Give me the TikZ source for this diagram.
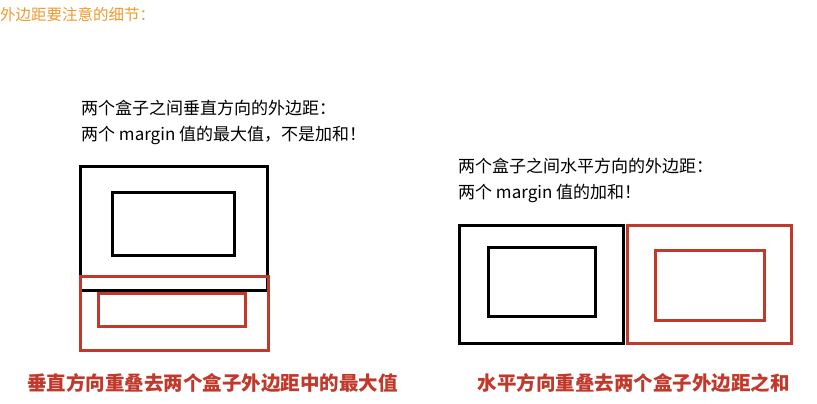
\documentclass[tikz,border=0pt]{standalone}
\usepackage{fontspec}
\setmainfont{Noto Sans CJK SC}
\usetikzlibrary{positioning}
\definecolor{note}{HTML}{EE9A2D}
\definecolor{mred}{HTML}{C0392B}
\tikzset{
  boxblk/.style  = {rectangle, draw=black, line width=3pt, inner sep=0pt, outer sep=0pt},
  boxred/.style  = {rectangle, draw=mred, line width=3pt, inner sep=0pt, outer sep=0pt},
  bodytxt/.style = {anchor=west, inner sep=0pt, font=\fontsize{17}{20}\selectfont},
  captxt/.style  = {inner sep=0pt, text=mred, font=\fontsize{19.5}{22}\selectfont\bfseries},
  notetxt/.style = {anchor=west, inner sep=0pt, text=note, font=\fontsize{15.5}{18}\selectfont},
}

\begin{document}
\begin{tikzpicture}[x=1pt, y=-1pt]
  \useasboundingbox (0,0) rectangle (817,404);

  % title
  \node[notetxt] (title) at (0,15) {外边距要注意的细节：};

  % vertical case
  \node[bodytxt] (vtxt1) at (81,108) {两个盒子之间垂直方向的外边距：};
  \node[bodytxt] (vtxt2) at (81,135) {两个 margin 值的最大值，不是加和！};
  \node[boxblk, minimum width=186.5, minimum height=123.5] (vouter) at (174,228.3) {};
  \node[boxblk, minimum width=122, minimum height=63] (vinner) at (173.7,223.5) {};
  \node[boxred, minimum width=188, minimum height=74] (vmargin) at (174.7,313) {};
  \node[boxred, minimum width=146.7, minimum height=32.3] (vbox) at (172,310) {};
  \node[captxt] (vcap) at (212.5,383.5) {垂直方向重叠去两个盒子外边距中的最大值};

  % horizontal case
  \node[bodytxt] (htxt1) at (458,166) {两个盒子之间水平方向的外边距：};
  \node[bodytxt] (htxt2) at (458,193) {两个 margin 值的加和！};
  \node[boxblk, minimum width=164.3, minimum height=118] (houter) at (541.2,284.7) {};
  \node[boxblk, minimum width=107.3, minimum height=69.3] (hinner) at (542,282.3) {};
  \node[boxred, minimum width=164.3, minimum height=118] (hmargin) at (709.2,284.7) {};
  \node[boxred, minimum width=109.3, minimum height=70] (hbox) at (710.3,285) {};
  \node[captxt] (hcap) at (633.5,383.5) {水平方向重叠去两个盒子外边距之和};
\end{tikzpicture}
\end{document}
